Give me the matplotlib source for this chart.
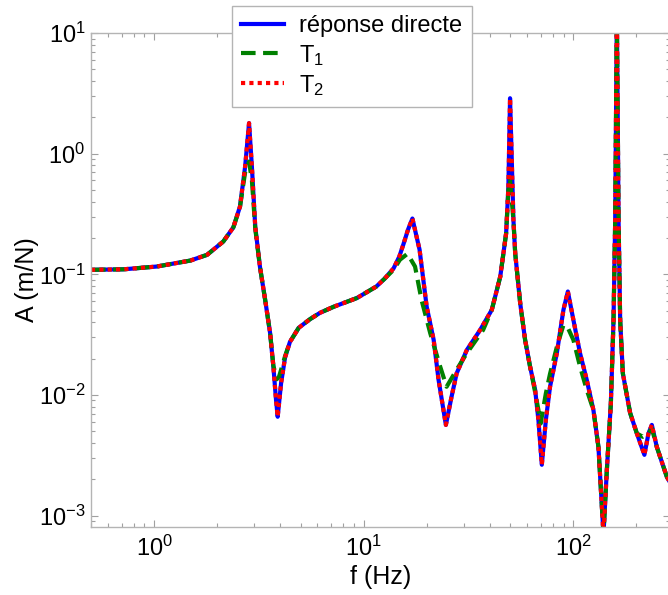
import matplotlib
matplotlib.use("Agg")
import matplotlib.pyplot as plt
from matplotlib.ticker import LogLocator, NullFormatter

plt.rcParams['font.family'] = ['Liberation Sans', 'DejaVu Sans']
plt.rcParams['mathtext.fontset'] = 'custom'
plt.rcParams['mathtext.rm'] = 'Liberation Sans'
plt.rcParams['mathtext.it'] = 'Liberation Sans:italic'

# frequency response, direct computation
f_direct = [0.5, 0.714, 1.03, 1.49, 1.79, 2.14, 2.39, 2.57, 2.72, 2.84, 2.93, 3.04,
            3.20, 3.39, 3.58, 3.71, 3.82, 3.89, 4.04, 4.22, 4.45, 4.9, 5.55, 6.2, 7.19, 9.29,
            11.5, 12.6, 13.9, 14.8, 15.5, 16.3, 17.1, 18.5, 20.0, 21.6, 22.8, 24.7, 26.3, 27.8, 31.1,
            36.0, 40.9, 44.9, 47.9, 49.1, 50.0, 51.9, 52.9, 55.9, 59.0, 62.3, 65.9,
            68.3, 70.9, 74.1, 77.6, 83.6, 89.9, 94.4, 100.3, 107.9, 116.2, 125.0,
            132.1, 139.6, 144.9, 151.4, 155.9, 158.8, 161.7, 164.8, 167.7, 172.7,
            187.1, 201.5, 218.9, 228.9, 237.5, 251.0, 280.0, 300.0]
a_direct = [0.109, 0.110, 0.116, 0.130, 0.145, 0.187, 0.245, 0.364, 0.78, 1.79, 0.78, 0.248,
            0.116, 0.0614, 0.0325, 0.0172, 0.0091, 0.0066, 0.0126, 0.0205, 0.0275, 0.036, 0.0425, 0.048, 0.0538, 0.0636,
            0.0792, 0.092, 0.112, 0.14, 0.178, 0.235, 0.29, 0.16, 0.054, 0.0286, 0.0133, 0.00565, 0.0097, 0.0151, 0.0236,
            0.0346, 0.0507, 0.0957, 0.219, 0.533, 2.88, 0.282, 0.15, 0.0576, 0.0286, 0.0172, 0.011,
            0.0062, 0.00264, 0.0062, 0.0117, 0.0222, 0.0507, 0.072, 0.0419, 0.0222, 0.0133, 0.0075,
            0.0037, 0.0007, 0.0024, 0.0085, 0.0419, 0.282, 15.0, 0.28, 0.042, 0.0151,
            0.0071, 0.0048, 0.00319, 0.0048, 0.00565, 0.0037, 0.0021, 0.0017]

# first reduced model
f_t1 = [0.5, 0.714, 1.03, 1.49, 1.79, 2.14, 2.39, 2.57, 2.72, 2.84, 2.93, 3.04,
        3.20, 3.39, 3.58, 3.71, 3.85, 3.95, 4.22, 4.45, 4.9, 5.55, 6.2, 7.19, 9.29,
        11.5, 12.6, 13.9, 14.9, 16.2, 17.6, 18.9, 20.8, 23.2, 24.9, 27.8, 31.1,
        37.2, 40.9, 44.9, 47.9, 49.1, 50.0, 51.9, 52.9, 55.9, 59.0, 62.3, 65.9,
        68.3, 70.0, 74.1, 77.6, 83.6, 89.9, 94.4, 100.3, 107.9, 116.2, 125.0,
        132.1, 139.6, 144.9, 151.4, 155.9, 158.8, 161.7, 164.8, 167.7, 172.7,
        187.1, 201.5, 215.0, 228.9, 237.5, 251.0, 280.0, 300.0]
a_t1 = [0.109, 0.110, 0.116, 0.130, 0.145, 0.187, 0.245, 0.36, 0.70, 0.86, 0.60, 0.24,
        0.116, 0.0614, 0.0325, 0.0175, 0.0135, 0.0142, 0.021, 0.0275, 0.036, 0.0425, 0.048, 0.0538, 0.0636,
        0.0792, 0.092, 0.109, 0.132, 0.148, 0.116, 0.0614, 0.0325, 0.0172, 0.0117, 0.0162, 0.0222,
        0.0346, 0.0507, 0.0957, 0.219, 0.50, 0.60, 0.28, 0.15, 0.0576, 0.0286, 0.0172, 0.0105,
        0.0075, 0.0058, 0.0103, 0.0150, 0.025, 0.038, 0.036, 0.0286, 0.0172, 0.0110, 0.0075,
        0.0037, 0.0007, 0.0024, 0.0085, 0.0419, 0.282, 15.0, 0.28, 0.042, 0.0151,
        0.0071, 0.0048, 0.0045, 0.0048, 0.0053, 0.0037, 0.0021, 0.0017]

# second reduced model
f_t2 = list(f_direct)
a_t2 = list(a_direct)

fig = plt.figure(figsize=(6.68, 5.95), dpi=100)
ax = fig.add_axes([91 / 668, 1 - 527 / 595, (670 - 91) / 668, (527 - 33) / 595])

ax.loglog(f_direct, a_direct, color='blue', lw=3, label='réponse directe')
ax.loglog(f_t1, a_t1, color='green', lw=3, linestyle=(0, (3.5, 1.8)), label='T$_1$')
ax.loglog(f_t2, a_t2, color='red', lw=3, linestyle=(0, (1, 1)), label='T$_2$')

ax.set_xlim(0.5, 290)
ax.set_ylim(8.05e-4, 10)

ax.xaxis.set_major_locator(LogLocator(base=10, numticks=10))
ax.xaxis.set_minor_locator(LogLocator(base=10, subs=range(2, 10), numticks=30))
ax.xaxis.set_minor_formatter(NullFormatter())
ax.yaxis.set_major_locator(LogLocator(base=10, numticks=10))
ax.yaxis.set_minor_locator(LogLocator(base=10, subs=range(2, 10), numticks=30))
ax.yaxis.set_minor_formatter(NullFormatter())

ax.tick_params(which='both', direction='in', top=True, right=True, color='#a0a0a0',
               labelsize=17, labelcolor='black')
ax.tick_params(which='major', length=5, width=0.8)
ax.tick_params(which='minor', length=3, width=0.8)
ax.tick_params(axis='y', pad=4)
ax.tick_params(axis='x', pad=6)
for sp in ax.spines.values():
    sp.set_color('#b4b4b4')
    sp.set_linewidth(1.0)

ax.set_xlabel('f (Hz)', fontsize=18, labelpad=3)
ax.set_ylabel('A (m/N)', fontsize=18, labelpad=0)

leg = ax.legend(loc='upper left', bbox_to_anchor=(232 / 668, 1 - 6 / 595),
                bbox_transform=fig.transFigure, fontsize=17, frameon=True,
                fancybox=False, framealpha=1, edgecolor='#b4b4b4',
                handlelength=1.8, handletextpad=0.65, borderpad=0.4,
                labelspacing=0.22, borderaxespad=0)
leg.get_frame().set_linewidth(1.0)

fig.savefig('out.png', dpi=100)
